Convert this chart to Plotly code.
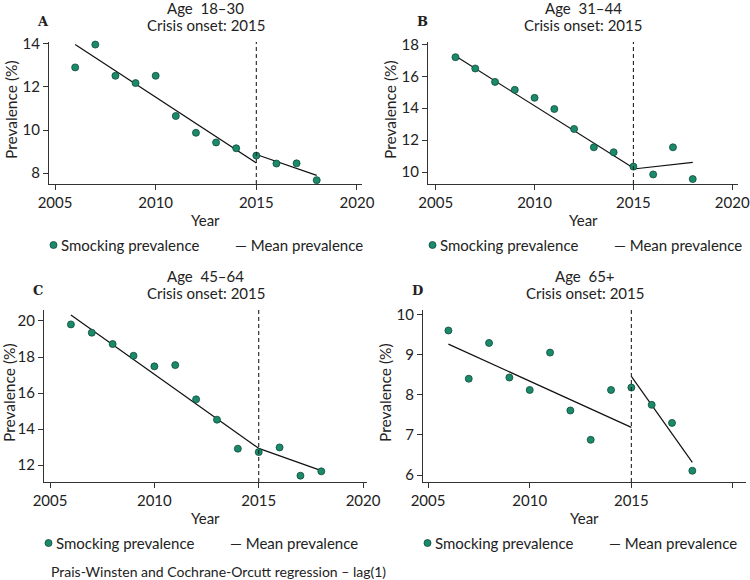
import plotly.graph_objects as go

years = list(range(2006, 2019))

prev_18_30 = [12.91, 13.97, 12.52, 12.18, 12.52, 10.65, 9.87, 9.42, 9.15, 8.81, 8.44, 8.45, 7.67]
prev_31_44 = [17.20, 16.49, 15.65, 15.15, 14.65, 13.95, 12.70, 11.55, 11.24, 10.34, 9.85, 11.55, 9.56]
prev_45_64 = [19.81, 19.35, 18.72, 18.07, 17.48, 17.55, 15.65, 14.52, 12.91, 12.72, 12.98, 11.41, 11.65]
prev_65p = [9.60, 8.40, 9.29, 8.43, 8.12, 9.05, 7.61, 6.88, 8.12, 8.18, 7.75, 7.30, 6.11]

# fitted mean prevalence segments: (pre-start, pre-end at 2015), (post-start at 2015, post-end at 2018)
fit_years_pre = [2006, 2015]
fit_years_post = [2015, 2018]
fit_18_30 = ([13.97, 8.47], [8.86, 7.89])
fit_31_44 = ([17.27, 10.25], [10.19, 10.61])
fit_45_64 = ([20.33, 12.93], [12.93, 11.69])
fit_65p = ([9.26, 7.19], [8.46, 6.32])

titles = ["Age  18\u201330", "Age  31\u201344", "Age  45\u201364", "Age  65+"]
letters = ["A", "B", "C", "D"]
crisis_year = 2015

W, H = 750, 580
FONT = "Lato"
TXT = "#222222"
GREEN = "#1b8a6b"

panels = [
    dict(data=prev_18_30, fit=fit_18_30, xpx=(49, 362), ypx=(42, 184), yr=[7.49, 14.09], dt=2, xr=[2004.70, 2020.25]),
    dict(data=prev_31_44, fit=fit_31_44, xpx=(428, 738), ypx=(42, 184), yr=[9.25, 18.15], dt=2, xr=[2004.61, 2020.29]),
    dict(data=prev_45_64, fit=fit_45_64, xpx=(44, 367), ypx=(310, 482), yr=[11.06, 20.61], dt=2, xr=[2004.71, 2020.19]),
    dict(data=prev_65p, fit=fit_65p, xpx=(423, 746), ypx=(310, 482), yr=[5.83, 10.11], dt=1, xr=[2004.75, 2020.64]),
]

fig = go.Figure()
annotations = []
shapes = []
layout = {}

def px(x):
    return x / W

def py(y):
    return 1 - y / H

for i, p in enumerate(panels):
    n = "" if i == 0 else str(i + 1)
    xa, ya = "x" + n, "y" + n
    pre, post = p["fit"]
    fig.add_trace(go.Scatter(x=fit_years_pre, y=pre, mode="lines", line=dict(color="#111111", width=1.2),
                             xaxis=xa, yaxis=ya, showlegend=False))
    fig.add_trace(go.Scatter(x=fit_years_post, y=post, mode="lines", line=dict(color="#111111", width=1.2),
                             xaxis=xa, yaxis=ya, showlegend=False))
    fig.add_trace(go.Scatter(x=years, y=p["data"], mode="markers",
                             marker=dict(color=GREEN, size=7, line=dict(color="#0d4a3a", width=0.8)),
                             xaxis=xa, yaxis=ya, showlegend=False, cliponaxis=False))
    x0, x1 = p["xpx"]
    y0, y1 = p["ypx"]
    layout["xaxis" + n] = dict(domain=[px(x0), px(x1)], range=p["xr"], anchor=ya, automargin=False,
                               tickvals=[2005, 2010, 2015, 2020], ticks="outside", ticklen=5,
                               tickcolor="#333", showline=True, linecolor="#333", linewidth=1,
                               showgrid=False, zeroline=False,
                               tickfont=dict(family=FONT, size=15, color=TXT))
    layout["yaxis" + n] = dict(domain=[py(y1), py(y0)], range=p["yr"], anchor=xa, automargin=False,
                               dtick=p["dt"], ticks="outside", ticklen=5,
                               tickcolor="#333", showline=True, linecolor="#333", linewidth=1,
                               showgrid=False, zeroline=False,
                               tickfont=dict(family=FONT, size=15, color=TXT))
    # vertical dashed crisis line
    shapes.append(dict(type="line", xref=xa, yref="paper", x0=crisis_year, x1=crisis_year,
                       y0=py(y1), y1=py(y0), line=dict(color="#222", width=1.1, dash="4px,3px")))
    cx = (x0 + x1) / 2
    annotations += [
        dict(x=px(cx), y=py(y0 - 34), text=titles[i], showarrow=False, xref="paper", yref="paper",
             font=dict(family=FONT, size=15, color=TXT), xanchor="center", yanchor="middle"),
        dict(x=px(cx), y=py(y0 - 17), text="Crisis onset: 2015", showarrow=False, xref="paper", yref="paper",
             font=dict(family=FONT, size=15, color=TXT), xanchor="center", yanchor="middle"),
        dict(x=px(x0 - 6), y=py(y0 - 20), text="<b>" + letters[i] + "</b>", showarrow=False,
             xref="paper", yref="paper", font=dict(family="DejaVu Serif", size=13, color=TXT),
             xanchor="center", yanchor="middle"),
        dict(x=px(max(x0 - 38, 9)), y=py((y0 + y1) / 2 - 3), text="Prevalence (%)", showarrow=False,
             xref="paper", yref="paper", textangle=-90,
             font=dict(family=FONT, size=15.5, color=TXT), xanchor="center", yanchor="middle"),
        dict(x=px(cx), y=py(y1 + 36), text="Year", showarrow=False, xref="paper", yref="paper",
             font=dict(family=FONT, size=15, color=TXT), xanchor="center", yanchor="middle"),
        dict(x=px(x0 + 10), y=py(y1 + 61), text="Smocking prevalence", showarrow=False,
             xref="paper", yref="paper", font=dict(family=FONT, size=15, color=TXT),
             xanchor="left", yanchor="middle"),
        dict(x=px(x0 + 184), y=py(y1 + 61), text="\u2014 Mean prevalence", showarrow=False,
             xref="paper", yref="paper", font=dict(family=FONT, size=15, color=TXT),
             xanchor="left", yanchor="middle"),
    ]
    # legend marker
    shapes.append(dict(type="circle", xref="paper", yref="paper",
                       x0=px(x0 + 1), x1=px(x0 + 8), y0=py(y1 + 64.5), y1=py(y1 + 57.5),
                       fillcolor=GREEN, line=dict(color="#0d4a3a", width=0.8)))

annotations.append(dict(x=px(49), y=py(571), text="Prais-Winsten and Cochrane-Orcutt regression \u2013 lag(1)",
                        showarrow=False, xref="paper", yref="paper",
                        font=dict(family=FONT, size=14, color=TXT), xanchor="left", yanchor="middle"))

fig.update_layout(width=W, height=H, margin=dict(l=0, r=0, t=0, b=0, pad=0), autosize=False,
                  paper_bgcolor="white", plot_bgcolor="white", hovermode=False,
                  annotations=annotations, shapes=shapes, showlegend=False, **layout)

fig.write_html("out.html", config={"responsive": False, "displayModeBar": False, "staticPlot": True},
               post_script="document.body.style.margin='0';document.body.style.overflow='hidden';")
